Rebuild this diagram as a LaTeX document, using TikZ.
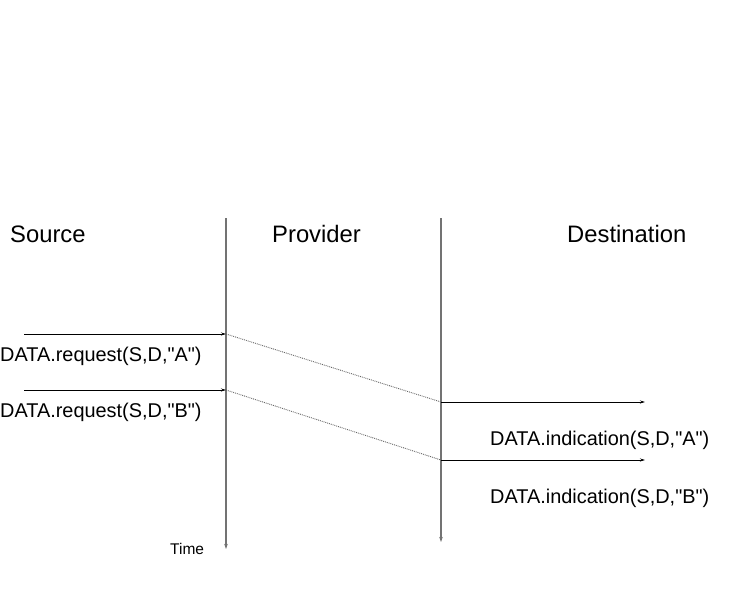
\documentclass[tikz,border=0pt]{standalone}
\usepackage{fontspec}
\setmainfont{Liberation Sans}[Ligatures=TeXOff]
\usetikzlibrary{arrows.meta}
\begin{document}
\begin{tikzpicture}[x=1pt,y=-1pt,
  lifeline/.style={draw=black!55,line width=1.3pt,-{Stealth[length=5pt,width=3.5pt]}},
  msg/.style={draw=black,line width=0.8pt,-{Stealth[length=5pt,width=3pt]}},
  transit/.style={draw=black!60,line width=0.9pt,densely dotted},
  head/.style={font=\fontsize{23.8}{27}\selectfont,inner sep=0pt,anchor=base west},
  lbl/.style={font=\fontsize{19.9}{23}\selectfont,inner sep=0pt,anchor=base west}]
\useasboundingbox (0,0) rectangle (756,592);
% column titles
\node[head] (src) at (10,242) {Source};
\node[head] (prv) at (272,242) {Provider};
\node[head] (dst) at (567,242) {Destination};
% lifelines
\coordinate (pTop) at (226,218);
\coordinate (pBot) at (226,549);
\coordinate (dTop) at (441,218);
\coordinate (dBot) at (441,542);
\draw[lifeline] (pTop) -- (pBot);
\draw[lifeline] (dTop) -- (dBot);
% request side
\coordinate (reqA0) at (24,334);
\coordinate (reqA1) at (226,334);
\coordinate (reqB0) at (24,390);
\coordinate (reqB1) at (226,390);
\draw[msg] (reqA0) -- (reqA1);
\draw[msg] (reqB0) -- (reqB1);
\node[lbl] (lreqA) at (0,361) {DATA.request(S,D,"A")};
\node[lbl] (lreqB) at (0,417) {DATA.request(S,D,"B")};
% transfer through the provider
\coordinate (indA0) at (441,402);
\coordinate (indB0) at (441,460);
\draw[transit] (reqA1) -- (indA0);
\draw[transit] (reqB1) -- (indB0);
% indication side
\coordinate (indA1) at (645,402);
\coordinate (indB1) at (645,460);
\draw[msg] (indA0) -- (indA1);
\draw[msg] (indB0) -- (indB1);
\node[lbl] (lindA) at (490,445) {DATA.indication(S,D,"A")};
\node[lbl] (lindB) at (490,503) {DATA.indication(S,D,"B")};
% time axis label
\node[font=\fontsize{15.5}{18}\selectfont,inner sep=0pt,anchor=base west] (time) at (170,554) {Time};
\end{tikzpicture}
\end{document}
